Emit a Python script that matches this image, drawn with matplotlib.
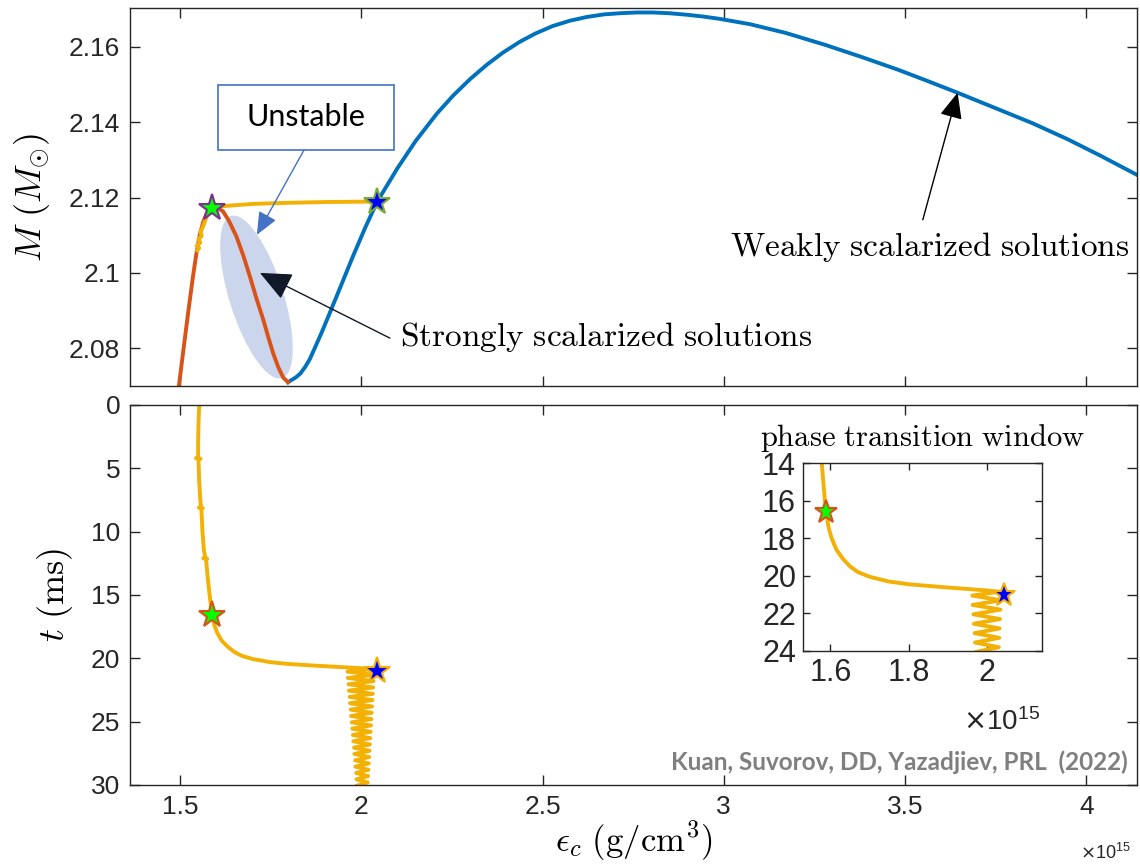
import matplotlib
matplotlib.use('Agg')
import matplotlib.pyplot as plt
from matplotlib.patches import Ellipse, Rectangle
from matplotlib.transforms import ScaledTranslation

plt.rcParams['font.family'] = ['Liberation Sans', 'DejaVu Sans']
plt.rcParams['mathtext.fontset'] = 'cm'

BLUE = '#0072BD'
RED = '#D95319'
GOLD = '#F2B104'
AXC = '#262626'

# weakly scalarized branch (eps_c in 1e15 g/cm^3, M in solar masses)
weak_eps = [1.798, 1.808, 1.820, 1.832, 1.845, 1.858, 1.872, 1.890, 1.909, 1.930,
            1.955, 1.978, 2.010, 2.044, 2.100, 2.150, 2.208, 2.253, 2.300, 2.346,
            2.390, 2.437, 2.480, 2.528, 2.575, 2.622, 2.670, 2.713, 2.760, 2.804,
            2.850, 2.898, 2.945, 2.989, 3.072, 3.170, 3.280, 3.380, 3.481, 3.560,
            3.645, 3.750, 3.852, 3.950, 4.037, 4.150]
weak_M = [2.0710, 2.0716, 2.0723, 2.0733, 2.0750, 2.0771, 2.0801, 2.0840, 2.0884, 2.0933,
          2.0992, 2.1046, 2.1118, 2.1189, 2.1278, 2.1350, 2.1422, 2.1470, 2.1514, 2.1552,
          2.1584, 2.1613, 2.1635, 2.1655, 2.1669, 2.1679, 2.1686, 2.1689, 2.1691, 2.1691,
          2.1689, 2.1685, 2.1680, 2.1674, 2.1660, 2.1637, 2.1605, 2.1573, 2.1539, 2.1510,
          2.1478, 2.1437, 2.1397, 2.1354, 2.1312, 2.1255]

# strongly scalarized branch
strong_eps = [1.493, 1.497, 1.510, 1.523, 1.535, 1.545, 1.555, 1.565, 1.575, 1.585,
              1.595, 1.605, 1.619, 1.635, 1.656, 1.675, 1.693, 1.711, 1.730, 1.744,
              1.757, 1.771, 1.785, 1.798]
strong_M = [2.0670, 2.0700, 2.0800, 2.0898, 2.0985, 2.1050, 2.1103, 2.1138, 2.1160, 2.1171,
            2.1175, 2.1172, 2.1163, 2.1138, 2.1096, 2.1045, 2.0990, 2.0932, 2.0875, 2.0828,
            2.0787, 2.0750, 2.0722, 2.0710]

# evolution track in the M - eps_c plane
track_eps_top = [1.548, 1.553, 1.546, 1.556, 1.551, 1.560, 1.556, 1.563, 1.572, 1.580,
                 1.588, 1.600, 1.630, 1.700, 1.800, 1.900, 2.000, 2.044]
track_M_top = [2.1060, 2.1066, 2.1072, 2.1080, 2.1090, 2.1098, 2.1108, 2.1122, 2.1145, 2.1162,
               2.1172, 2.1175, 2.1178, 2.1183, 2.1186, 2.1188, 2.1189, 2.1189]

# evolution track in time (t in ms)
track_eps = [1.553, 1.551, 1.550, 1.550, 1.544, 1.557, 1.551, 1.553, 1.556, 1.558,
             1.552, 1.563, 1.559, 1.562, 1.566, 1.570, 1.564, 1.575, 1.572, 1.576,
             1.581, 1.585, 1.589, 1.595, 1.603, 1.615, 1.632, 1.650, 1.670, 1.700,
             1.748, 1.800, 1.886, 1.950, 2.000, 2.030]
track_t = [0.0, 1.5, 3.0, 4.1, 4.2, 4.25, 4.3, 6.0, 7.5, 8.0,
           8.1, 8.15, 8.2, 10.0, 11.5, 12.0, 12.1, 12.15, 12.2, 13.5,
           14.8, 15.8, 16.6, 17.4, 18.0, 18.6, 19.1, 19.5, 19.8, 20.05,
           20.3, 20.45, 20.6, 20.7, 20.78, 20.85]

# ringing after the transition (turning points of the oscillation)
osc_eps = [1.962, 2.035, 1.963, 2.034, 1.965, 2.033, 1.966, 2.032, 1.968, 2.031,
           1.969, 2.030, 1.971, 2.029, 1.972, 2.028, 1.974, 2.027, 1.975, 2.026,
           1.977, 2.025, 1.978, 2.024, 1.980, 2.023, 1.981, 2.022, 1.983, 2.021,
           1.984, 2.020, 1.986, 2.019, 1.987, 2.018, 1.989]
osc_t = [21.05, 21.30, 21.55, 21.80, 22.05, 22.30, 22.55, 22.80, 23.05, 23.30,
         23.55, 23.80, 24.05, 24.30, 24.55, 24.80, 25.05, 25.30, 25.55, 25.80,
         26.05, 26.30, 26.55, 26.80, 27.05, 27.30, 27.55, 27.80, 28.05, 28.30,
         28.55, 28.80, 29.05, 29.30, 29.55, 29.80, 30.05]

# start / end of the phase transition
star_eps = [1.588, 2.044]
star_M = [2.1172, 2.1189]
star_t = [16.6, 21.0]

M_ticks = [2.08, 2.10, 2.12, 2.14, 2.16]
M_ticklabels = ['2.08', '2.1', '2.12', '2.14', '2.16']
eps_ticks = [1.5, 2.0, 2.5, 3.0, 3.5, 4.0]
eps_ticklabels = ['1.5', '2', '2.5', '3', '3.5', '4']
t_ticks = [0, 5, 10, 15, 20, 25, 30]
inset_eps_ticks = [1.6, 1.8, 2.0]
inset_eps_ticklabels = ['1.6', '1.8', '2']
inset_t_ticks = [14, 16, 18, 20, 22, 24]


def style(ax, size=19):
    ax.tick_params(direction='in', top=True, right=True, length=7, width=1,
                   color=AXC, labelcolor=AXC, labelsize=size, pad=7)
    for s in ax.spines.values():
        s.set_color(AXC)
        s.set_linewidth(1)


fig = plt.figure(figsize=(11.4, 8.65), dpi=100)
ax1 = fig.add_axes([0.114, 0.5538, 0.8834, 0.4370])
ax2 = fig.add_axes([0.114, 0.0925, 0.8834, 0.4393])
ax3 = fig.add_axes([0.7044, 0.2474, 0.2096, 0.2173])

# ---- top: mass vs central density ----
ax1.plot(weak_eps, weak_M, color=BLUE, lw=2.8, zorder=2)
ax1.plot(strong_eps, strong_M, color=RED, lw=2.8, zorder=2)
ax1.plot(track_eps_top, track_M_top, color=GOLD, lw=2.8, zorder=3)
ax1.plot(star_eps[0], star_M[0], marker='*', ms=20, mfc='#00FF00', mec='#7E2F8E', mew=1.5, zorder=4)
ax1.plot(star_eps[1], star_M[1], marker='*', ms=20, mfc='#0000FF', mec='#77AC30', mew=1.5, zorder=4)

ax1.set_xlim(1.362, 4.14)
ax1.set_ylim(2.07, 2.1703)
ax1.set_xticks(eps_ticks)
ax1.set_xticklabels([])
ax1.set_yticks(M_ticks)
ax1.set_yticklabels(M_ticklabels)
style(ax1)
ax1.set_ylabel(r'$M\ (M_{\odot})$', fontsize=26)
ax1.yaxis.set_label_coords(-0.077, 0.5)

# shaded region around the unstable part of the strong branch
ell_tr = fig.dpi_scale_trans + ScaledTranslation(1.711, 2.0936, ax1.transData)
ax1.add_patch(Ellipse((0, 0), 1.70, 0.54, angle=107.5, transform=ell_tr,
                      fc='#CBD5EC', ec='none', zorder=1))

ax1.add_patch(Rectangle((1.605, 2.1326), 0.485, 0.0173, fc='white', ec='#4472C4',
                        lw=1.2, zorder=5))
ax1.text(1.847, 2.1413, 'Unstable', ha='center', va='center', fontsize=22,
         family=['Lato', 'DejaVu Sans'], zorder=6)
ax1.annotate('', xy=(1.712, 2.1101), xytext=(1.842, 2.1326),
             arrowprops=dict(arrowstyle='-|>,head_length=0.7,head_width=0.3',
                             color='#4472C4', lw=1, mutation_scale=20,
                             shrinkA=0, shrinkB=0), zorder=6)

ax1.annotate('', xy=(1.7206, 2.1000), xytext=(2.079, 2.0827),
             arrowprops=dict(arrowstyle='-|>,head_length=0.9,head_width=0.4',
                             color='#111827', lw=1, mutation_scale=22,
                             shrinkA=0, shrinkB=0), zorder=6)
ax1.text(2.107, 2.0830, r'$\mathrm{Strongly\ scalarized\ solutions}$',
         ha='left', va='center', fontsize=24)

ax1.annotate('', xy=(3.645, 2.1478), xytext=(3.549, 2.1141),
             arrowprops=dict(arrowstyle='-|>,head_length=0.8,head_width=0.35',
                             color='black', lw=1, mutation_scale=20,
                             shrinkA=0, shrinkB=0), zorder=6)
ax1.text(3.016, 2.1069, r'$\mathrm{Weakly\ scalarized\ solutions}$',
         ha='left', va='center', fontsize=24)

# ---- bottom: time evolution of the central density ----
def draw_track(ax, lw, ms):
    ax.plot(track_eps + osc_eps, track_t + osc_t, color=GOLD, lw=lw, zorder=2)
    ax.plot(star_eps[0], star_t[0], marker='*', ms=ms, mfc='#00FF00', mec=RED, mew=1.5, zorder=4)
    ax.plot(star_eps[1], star_t[1], marker='*', ms=ms, mfc='#0000FF', mec=GOLD, mew=1.5, zorder=4)


draw_track(ax2, 2.8, 20)
ax2.set_xlim(1.362, 4.14)
ax2.set_ylim(30, 0)
ax2.set_xticks(eps_ticks)
ax2.set_xticklabels(eps_ticklabels)
ax2.set_yticks(t_ticks)
style(ax2)
ax2.set_ylabel(r'$t\ (\mathrm{ms})$', fontsize=26)
ax2.yaxis.set_label_coords(-0.055, 0.5)
ax2.set_xlabel(r'$\epsilon_c\ (\mathrm{g/cm^3})$', fontsize=25, labelpad=0)
ax2.text(0.991, 0.06, 'Kuan, Suvorov, DD, Yazadjiev, PRL  (2022)', transform=ax2.transAxes,
         ha='right', va='center', fontsize=17.5, fontweight='bold', color='#7F7F7F',
         family=['Lato', 'DejaVu Sans'])
fig.text(0.970, 0.0139, r'$\times\mathregular{10^{15}}$', ha='center', va='center',
         fontsize=13, color=AXC, math_fontfamily='dejavusans')

# ---- inset: zoom on the transition ----
draw_track(ax3, 2.8, 17)
ax3.set_xlim(1.53, 2.14)
ax3.set_ylim(24, 14)
ax3.set_xticks(inset_eps_ticks)
ax3.set_xticklabels(inset_eps_ticklabels)
ax3.set_yticks(inset_t_ticks)
style(ax3, size=22)
ax3.tick_params(length=5, pad=5)
ax3.set_title(r'$\mathrm{phase\ transition\ window}$', fontsize=22, pad=12)
fig.text(0.879, 0.165, r'$\times\mathregular{10^{15}}$', ha='center', va='center',
         fontsize=20, color=AXC, math_fontfamily='dejavusans')

fig.savefig('out.png', dpi=100)
